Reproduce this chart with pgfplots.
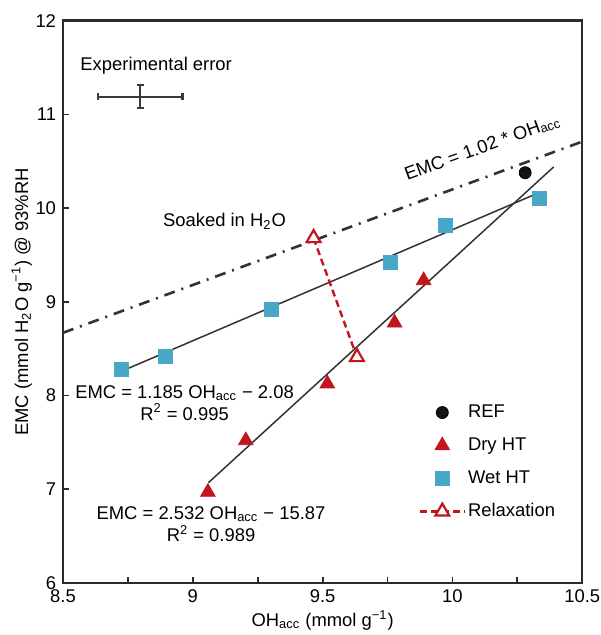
\documentclass[border=0pt]{standalone}
\usepackage{fontspec}
\setmainfont{Liberation Sans}
\usepackage{pgfplots}
\pgfplotsset{compat=1.18}
\usetikzlibrary{calc}
\definecolor{wetblue}{HTML}{47A7C7}
\definecolor{dryred}{HTML}{C3161C}
\definecolor{fitgray}{HTML}{333333}
\definecolor{axgray}{HTML}{2B2B2B}
\definecolor{errgray}{HTML}{3A3A3A}
\newcommand{\lbl}{\fontsize{9.2bp}{11bp}\selectfont}

\begin{document}
\begin{tikzpicture}
\begin{axis}[
  scale only axis,
  width=259.5bp, height=281bp,
  xmin=8.5, xmax=10.5, ymin=6, ymax=12,
  xtick={8.5,9,9.5,10,10.5},
  minor xtick={8.75,9.25,9.75,10.25},
  ytick={6,7,8,9,10,11,12},
  xtick pos=bottom, ytick pos=left,
  tick align=inside,
  major tick length=2.8bp, minor tick length=2.8bp,
  tick style={draw=axgray, line width=0.9bp},
  axis line style={draw=axgray, line width=1.2bp},
  /pgf/number format/assume math mode=true,
  tick label style={font=\lbl},
  xlabel={OH\textsubscript{acc} (mmol g\textsuperscript{−1})},
  ylabel={EMC (mmol H\textsubscript{2}O g\textsuperscript{−1}) @ 93\%RH},
  xlabel style={at={(axis description cs:0.5,-0.078)}, anchor=base, font=\lbl},
  ylabel style={at={(axis description cs:-0.0674,0.5)}, anchor=base, font=\lbl},
  legend style={at={(axis cs:9.868,7.935)}, anchor=north west, draw=none, fill=none,
    font=\lbl, row sep=6bp, inner sep=0pt,
    nodes={inner sep=1bp, text height=6.6bp, text depth=1.9bp}},
  legend cell align=left,
  legend image code/.code={\draw[mark repeat=2,mark phase=2]
    plot coordinates {(0bp,0bp) (11.25bp,0bp) (22.5bp,0bp)};},
  clip=false
]
% reference line EMC = 1.02 OH
\addplot[forget plot, draw=fitgray, line width=1.3bp,
  dash pattern=on 5.5bp off 3.5bp on 1bp off 3.5bp]
  coordinates {(8.5,8.67) (10.5,10.71)};
% fits
\addplot[forget plot, draw=fitgray, line width=0.75bp]
  coordinates {(8.73,8.265) (10.335,10.167)};
\addplot[forget plot, draw=fitgray, line width=0.75bp]
  coordinates {(9.06,7.07) (10.39,10.44)};
% experimental error
\addplot[forget plot, draw=none, mark=none,
  error bars/.cd, x dir=both, x explicit, y dir=both, y explicit,
  error bar style={draw=errgray, line width=1.1bp, solid},
  error mark options={rotate=90, draw=errgray, line width=1.1bp, mark size=1.7bp}]
  coordinates {(8.797,11.19) +- (0.163,0.124)};

\addplot[only marks, mark=*, mark size=3bp, draw=black, fill=black!92]
  coordinates {(10.28,10.378)};
\addlegendentry{REF}
\addplot[only marks, mark=triangle*, mark size=4.2bp, draw=dryred, fill=dryred]
  coordinates {(9.058,6.97) (9.204,7.52) (9.518,8.126) (9.777,8.776) (9.889,9.228)};
\addlegendentry{Dry HT}
\addplot[only marks, mark=square*, mark size=3.5bp, draw=wetblue, fill=wetblue]
  coordinates {(8.726,8.278) (8.896,8.420) (9.304,8.918) (9.760,9.425) (9.972,9.817) (10.335,10.101)};
\addlegendentry{Wet HT}
\addplot[draw=dryred, line width=1.2bp, dash pattern=on 3.5bp off 2bp,
  mark=triangle*, mark size=4bp, mark options={solid, fill=white, draw=dryred, line width=1.1bp}]
  coordinates {(9.465,9.68) (9.632,8.41)};
\addlegendentry{Relaxation}

\node[anchor=base west, inner sep=0pt, font=\lbl] at (axis cs:8.5655,11.469) {Experimental error};
\node[anchor=base west, inner sep=0pt, font=\lbl] at (axis cs:8.884,9.806) {Soaked in H\textsubscript{2}O};
\node[anchor=base west, inner sep=0pt, font=\lbl, rotate=20] at (axis cs:9.825,10.29) {EMC = 1.02 * OH\textsubscript{acc}};
\node[anchor=base, inner sep=0pt, font=\lbl] at (axis cs:8.968,7.969) {EMC = 1.185 OH\textsubscript{acc} − 2.08};
\node[anchor=base, inner sep=0pt, font=\lbl] at (axis cs:8.968,7.738) {R\textsuperscript{2} = 0.995};
\node[anchor=base, inner sep=0pt, font=\lbl] at (axis cs:9.070,6.672) {EMC = 2.532 OH\textsubscript{acc} − 15.87};
\node[anchor=base, inner sep=0pt, font=\lbl] at (axis cs:9.070,6.440) {R\textsuperscript{2} = 0.989};

\coordinate (ll) at (rel axis cs:0,0);
\coordinate (ur) at (rel axis cs:1,1);
\end{axis}
\pgfresetboundingbox
\path ($(ll)+(-31.5bp,-26bp)$) rectangle ($(ur)+(9bp,10.35bp)$);
\end{tikzpicture}
\end{document}
